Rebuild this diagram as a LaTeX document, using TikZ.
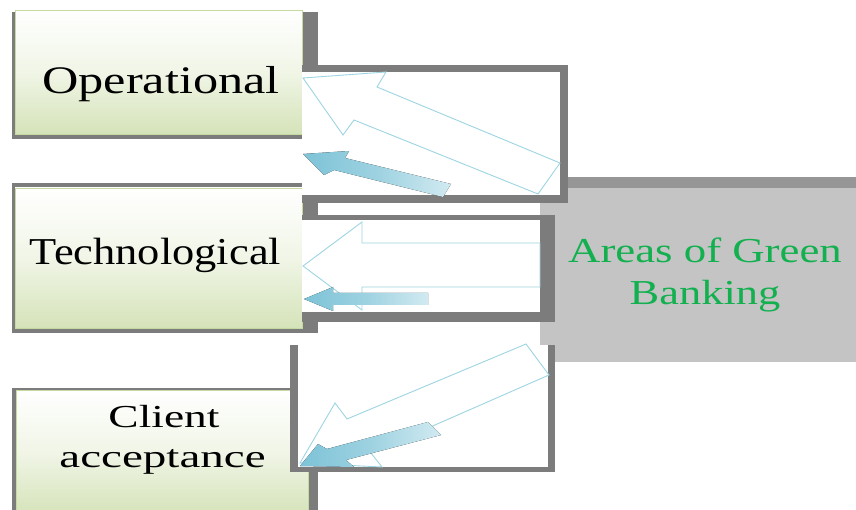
\documentclass[tikz,border=0pt]{standalone}
\usepackage{fontspec}
\setmainfont{Liberation Serif}
\usepackage{graphicx}
\definecolor{shadowgray}{HTML}{7C7C7C}
\definecolor{panelgray}{HTML}{C4C4C4}
\definecolor{bandgray}{HTML}{969696}
\definecolor{boxgreen}{HTML}{D5E3B9}
\definecolor{boxedge}{HTML}{C6D9A0}
\definecolor{arrowline}{HTML}{9DD5E2}
\definecolor{arrowfill}{HTML}{7DC3D7}
\definecolor{textgreen}{HTML}{12B04F}
\begin{document}
\begin{tikzpicture}[x=1pt,y=-1pt,
  shadowfill/.style={fill=shadowgray,draw=none},
  whitefill/.style={fill=white,draw=none},
  greenbox/.style={top color=white,bottom color=boxgreen,middle color=boxgreen!35,draw=boxedge,line width=0.8},
  outlinearrow/.style={draw=arrowline,line width=0.9,fill=none,line join=miter},
  solidarrow/.style={left color=arrowfill,right color=arrowfill!35,middle color=arrowfill!75,draw=none},
  boxtext/.style={anchor=base,text=black,inner sep=0pt}]
\useasboundingbox (0,0) rectangle (856,510);
\fill[white] (0,0) rectangle (856,510);

% central panel
\fill[bandgray] (540,177) rectangle (856,188);
\fill[panelgray] (540,188) rectangle (856,362);

% box 1
\fill[shadowfill] (12,12) rectangle (318,139);
\path[greenbox] (15,10) rectangle (302,134);
% box 2
\fill[shadowfill] (12,183) rectangle (318,333);
\path[greenbox] (15,188) rectangle (302,328);
% box 3
\fill[shadowfill] (12,388) rectangle (318,515);
\path[greenbox] (16,390) rectangle (308,515);

% frame 1
\fill[shadowfill] (302,65) rectangle (568,203);
\fill[whitefill] (302,72) rectangle (560,195);
% frame 2
\fill[shadowfill] (302,215) rectangle (555,322);
\fill[whitefill] (302,220) rectangle (540,312);
% frame 3
\fill[shadowfill] (290,345) rectangle (555,472);
\fill[whitefill] (298,345) rectangle (548,467);

% arrows frame 1
\draw[outlinearrow] (303,78) -- (386,72) -- (377,87) -- (560,163) -- (538,194) -- (354,120) -- (343,135) -- cycle;
\fill[solidarrow] (303,154) -- (349,151) -- (345,158) -- (451,184) -- (443,197) -- (334,170) -- (324,175) -- cycle;
% arrows frame 2
\draw[outlinearrow] (303,266) -- (362,222) -- (362,243) -- (540,243) -- (540,287) -- (362,287) -- (362,310) -- cycle;
\fill[solidarrow] (304,299) -- (333,287) -- (333,293) -- (428,293) -- (428,305) -- (333,305) -- (333,311) -- cycle;
% arrows frame 3
\draw[outlinearrow] (300,463) -- (335,403) -- (347,419) -- (526,344) -- (549,375) -- (371,453) -- (382,467) -- cycle;
\fill[solidarrow] (300,466) -- (318,444) -- (327,449) -- (428,422) -- (441,435) -- (346,460) -- (354,467) -- cycle;

% texts
\node[boxtext,font=\fontsize{39}{46}\selectfont] (op) at (161,94) {\scalebox{1.29}[1]{Operational}};
\node[boxtext,font=\fontsize{38}{46}\selectfont] (tech) at (155.5,265) {\scalebox{1.17}[1]{Technological}};
\node[boxtext,font=\fontsize{32}{40}\selectfont] (cl) at (164,427) {\scalebox{1.42}[1]{Client}};
\node[boxtext,font=\fontsize{32}{40}\selectfont] (acc) at (162.5,467) {\scalebox{1.47}[1]{acceptance}};
\node[boxtext,text=textgreen,font=\fontsize{35}{42}\selectfont] (areas) at (705,263) {\scalebox{1.28}[1]{Areas of Green}};
\node[boxtext,text=textgreen,font=\fontsize{35}{42}\selectfont] (bank) at (705,305) {\scalebox{1.27}[1]{Banking}};
\end{tikzpicture}
\end{document}
